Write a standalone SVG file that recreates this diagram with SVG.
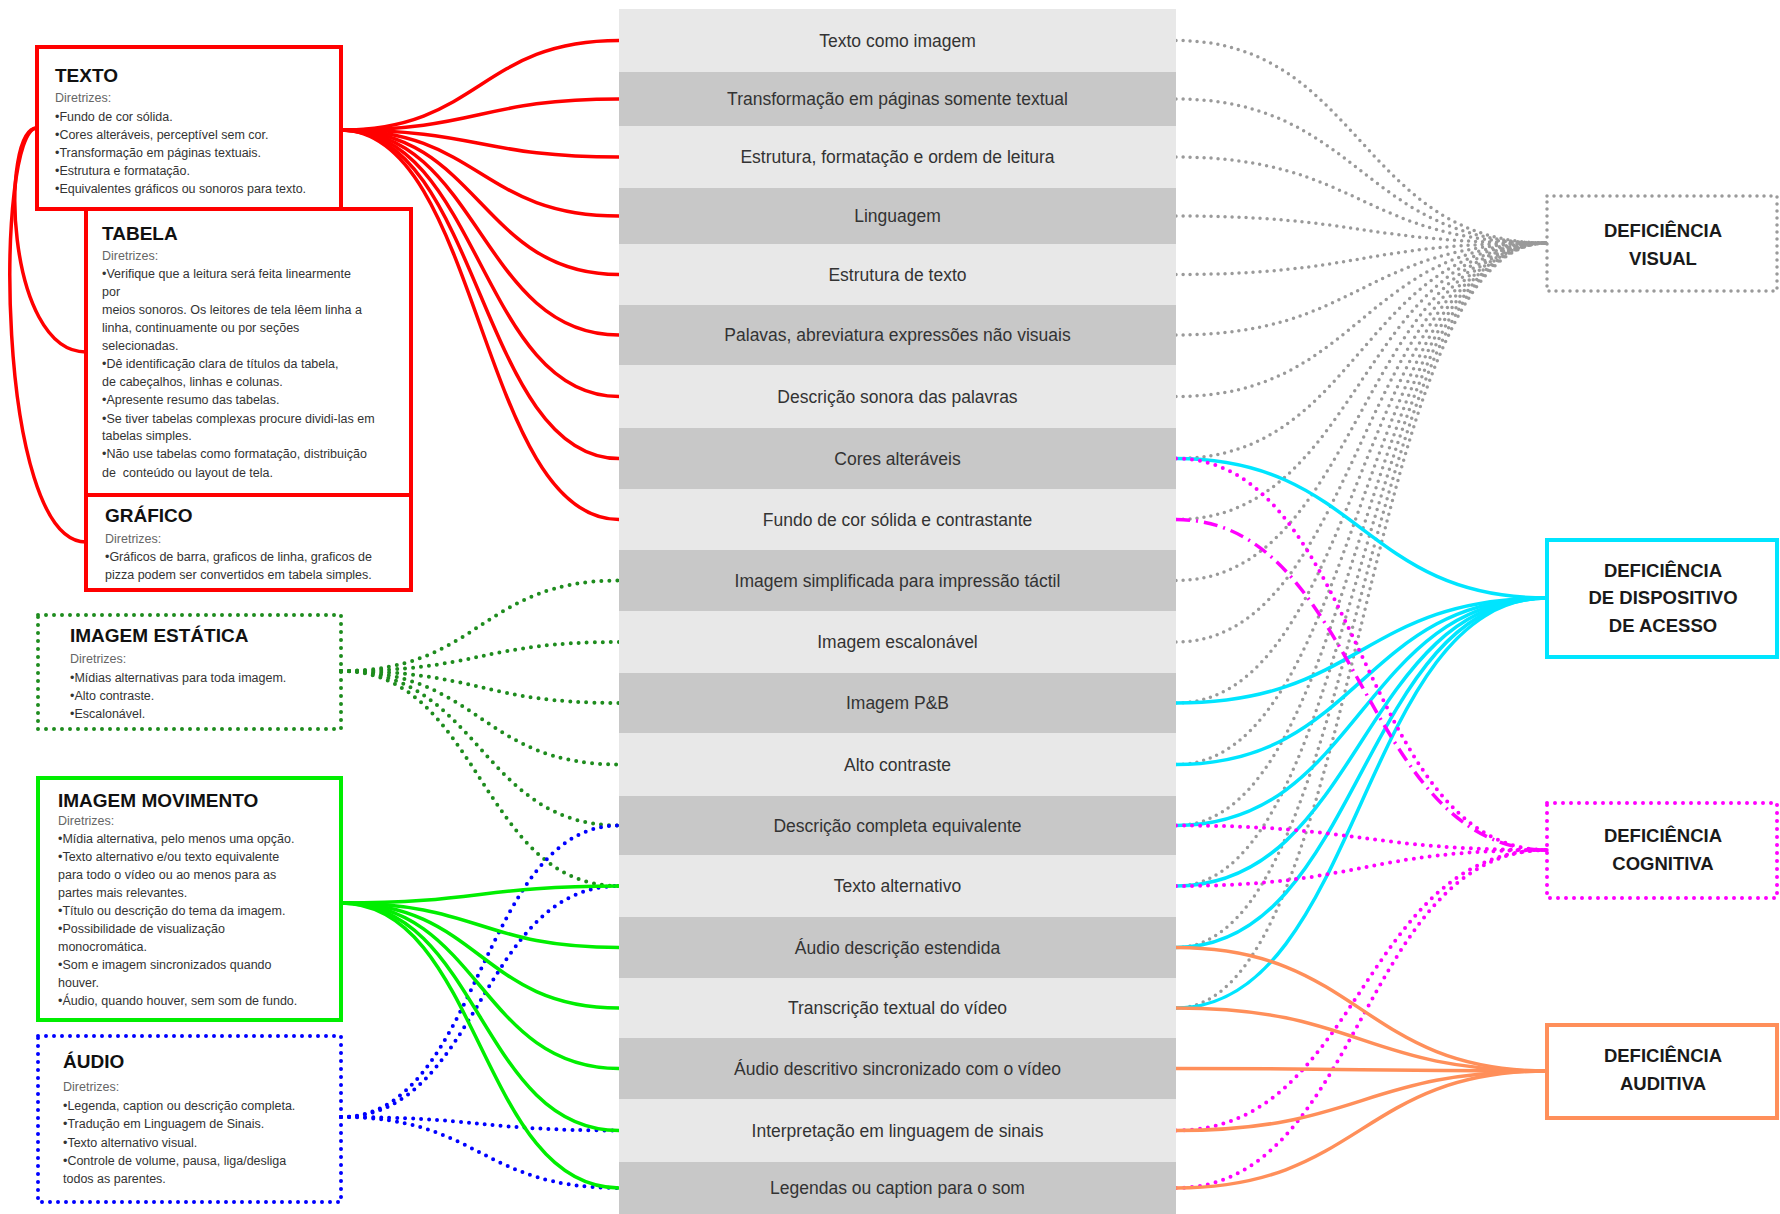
<svg xmlns="http://www.w3.org/2000/svg" width="1780" height="1214" viewBox="0 0 1780 1214">
<style>
text{font-family:"Liberation Sans",Arial,sans-serif}
.row{font-size:17.5px;fill:#333;text-anchor:middle}
.ttl{font-size:19px;font-weight:bold;fill:#111}
.dir{font-size:12.5px;fill:#666}
.bd{font-size:12.5px;fill:#333}
.def{font-size:18.5px;font-weight:bold;fill:#1a1a1a;text-anchor:middle}
.lt{fill:#e8e8e8}
.dk{fill:#c8c8c8}
path,rect.b{fill:none}
.red{stroke:#ff0000;stroke-width:3.5}
.dg{stroke:#1e8c1e;stroke-width:4;stroke-dasharray:0 8;stroke-linecap:round}
.bg{stroke:#00ee00;stroke-width:3.5}
.bl{stroke:#0000ff;stroke-width:4;stroke-dasharray:0 8;stroke-linecap:round}
.gr{stroke:#9a9a9a;stroke-width:3.5;stroke-dasharray:0 7;stroke-linecap:round}
.cy{stroke:#00e5ff;stroke-width:3.5}
.mg{stroke:#ff00ff;stroke-width:4;stroke-dasharray:0 8;stroke-linecap:round}
.mgd{stroke:#ff00ff;stroke-width:3.5;stroke-dasharray:14 6 2 6}
.or{stroke:#ff8f5a;stroke-width:3.5}
</style>
<rect width="1780" height="1214" fill="#ffffff"/>

<g id="connectors">
  <!-- red from TEXTO -->
  <path class="red" d="M341,130 C480,130 480,40.5 619,40.5"/>
  <path class="red" d="M341,130 C480,130 480,99 619,99"/>
  <path class="red" d="M341,130 C480,130 480,157 619,157"/>
  <path class="red" d="M341,130 C480,130 480,216 619,216"/>
  <path class="red" d="M341,130 C480,130 480,274.5 619,274.5"/>
  <path class="red" d="M341,130 C480,130 480,335 619,335"/>
  <path class="red" d="M341,130 C480,130 480,396.5 619,396.5"/>
  <path class="red" d="M341,130 C480,130 480,458.5 619,458.5"/>
  <path class="red" d="M341,130 C480,130 480,519.5 619,519.5"/>
  <path class="red" d="M37,128 C0,128 5,352 86,352"/>
  <path class="red" d="M37,128 C-5,128 -5,542 86,542"/>
  <!-- dark green dotted from IMAGEM ESTATICA -->
  <path class="dg" d="M341,671 C480,671 480,580.5 619,580.5"/>
  <path class="dg" d="M341,671 C480,671 480,642 619,642"/>
  <path class="dg" d="M341,671 C480,671 480,703 619,703"/>
  <path class="dg" d="M341,671 C480,671 480,764.5 619,764.5"/>
  <path class="dg" d="M341,671 C480,671 480,825.5 619,825.5"/>
  <path class="dg" d="M341,671 C480,671 480,886 619,886"/>
  <!-- blue dotted from AUDIO -->
  <path class="bl" d="M341,1117 C480,1117 480,825.5 619,825.5"/>
  <path class="bl" d="M341,1117 C480,1117 480,886 619,886"/>
  <path class="bl" d="M341,1117 C480,1117 480,1130.5 619,1130.5"/>
  <path class="bl" d="M341,1117 C480,1117 480,1188 619,1188"/>
  <!-- bright green from IMAGEM MOVIMENTO -->
  <path class="bg" d="M341,903 C480,903 480,886 619,886"/>
  <path class="bg" d="M341,903 C480,903 480,947.5 619,947.5"/>
  <path class="bg" d="M341,903 C480,903 480,1008 619,1008"/>
  <path class="bg" d="M341,903 C480,903 480,1068.5 619,1068.5"/>
  <path class="bg" d="M341,903 C480,903 480,1130.5 619,1130.5"/>
  <path class="bg" d="M341,903 C480,903 480,1188 619,1188"/>
  <!-- gray dotted to DEFICIENCIA VISUAL -->
  <path class="gr" d="M1176,40.5 C1361,40.5 1361,243 1547,243"/>
  <path class="gr" d="M1176,99 C1361,99 1361,243 1547,243"/>
  <path class="gr" d="M1176,157 C1361,157 1361,243 1547,243"/>
  <path class="gr" d="M1176,216 C1361,216 1361,243 1547,243"/>
  <path class="gr" d="M1176,274.5 C1361,274.5 1361,243 1547,243"/>
  <path class="gr" d="M1176,335 C1361,335 1361,243 1547,243"/>
  <path class="gr" d="M1176,396.5 C1361,396.5 1361,243 1547,243"/>
  <path class="gr" d="M1176,458.5 C1361,458.5 1361,243 1547,243"/>
  <path class="gr" d="M1176,519.5 C1361,519.5 1361,243 1547,243"/>
  <path class="gr" d="M1176,580.5 C1361,580.5 1361,243 1547,243"/>
  <path class="gr" d="M1176,642 C1361,642 1361,243 1547,243"/>
  <path class="gr" d="M1176,703 C1361,703 1361,243 1547,243"/>
  <path class="gr" d="M1176,764.5 C1361,764.5 1361,243 1547,243"/>
  <path class="gr" d="M1176,825.5 C1361,825.5 1361,243 1547,243"/>
  <path class="gr" d="M1176,886 C1361,886 1361,243 1547,243"/>
  <path class="gr" d="M1176,947.5 C1361,947.5 1361,243 1547,243"/>
  <path class="gr" d="M1176,1008 C1361,1008 1361,243 1547,243"/>
  <!-- cyan to DISPOSITIVO -->
  <path class="cy" d="M1176,458.5 C1361,458.5 1361,598 1547,598"/>
  <path class="cy" d="M1176,703 C1361,703 1361,598 1547,598"/>
  <path class="cy" d="M1176,764.5 C1361,764.5 1361,598 1547,598"/>
  <path class="cy" d="M1176,825.5 C1361,825.5 1361,598 1547,598"/>
  <path class="cy" d="M1176,886 C1361,886 1361,598 1547,598"/>
  <path class="cy" d="M1176,947.5 C1361,947.5 1361,598 1547,598"/>
  <path class="cy" d="M1176,1008 C1361,1008 1361,598 1547,598"/>
  <!-- magenta to COGNITIVA -->
  <path class="mg" d="M1176,458.5 C1361,458.5 1361,850 1547,850"/>
  <path class="mgd" d="M1176,519.5 C1361,519.5 1361,850 1547,850"/>
  <path class="mg" d="M1176,825.5 C1361,825.5 1361,850 1547,850"/>
  <path class="mg" d="M1176,886 C1361,886 1361,850 1547,850"/>
  <path class="mg" d="M1176,1130.5 C1361,1130.5 1361,850 1547,850"/>
  <path class="mg" d="M1176,1188 C1361,1188 1361,850 1547,850"/>
  <!-- orange to AUDITIVA -->
  <path class="or" d="M1176,947.5 C1361,947.5 1361,1071 1547,1071"/>
  <path class="or" d="M1176,1008 C1361,1008 1361,1071 1547,1071"/>
  <path class="or" d="M1176,1068.5 C1361,1068.5 1361,1071 1547,1071"/>
  <path class="or" d="M1176,1130.5 C1361,1130.5 1361,1071 1547,1071"/>
  <path class="or" d="M1176,1188 C1361,1188 1361,1071 1547,1071"/>
</g>

<!-- Left boxes -->
<g id="texto">
  <rect class="b" x="37" y="47" width="304" height="162" fill="#fff" stroke="#ff0000" stroke-width="4"/>
  <text class="ttl" x="55" y="82">TEXTO</text>
  <text class="dir" x="55" y="102">Diretrizes:</text>
  <text class="bd" x="55" y="120.5">•Fundo de cor sólida.</text>
  <text class="bd" x="55" y="139">•Cores alteráveis, perceptível sem cor.</text>
  <text class="bd" x="55" y="157">•Transformação em páginas textuais.</text>
  <text class="bd" x="55" y="175">•Estrutura e formatação.</text>
  <text class="bd" x="55" y="193">•Equivalentes gráficos ou sonoros para texto.</text>
</g>
<g id="tabela">
  <rect class="b" x="86" y="209" width="325" height="286" stroke="#ff0000" stroke-width="4"/>
  <text class="ttl" x="102" y="240">TABELA</text>
  <text class="dir" x="102" y="260">Diretrizes:</text>
  <text class="bd" x="102" y="277.5">•Verifique que a leitura será feita linearmente</text>
  <text class="bd" x="102" y="296">por</text>
  <text class="bd" x="102" y="313.5">meios sonoros. Os leitores de tela lêem linha a</text>
  <text class="bd" x="102" y="331.5">linha, continuamente ou por seções</text>
  <text class="bd" x="102" y="350">selecionadas.</text>
  <text class="bd" x="102" y="368">•Dê identificação clara de títulos da tabela,</text>
  <text class="bd" x="102" y="386">de cabeçalhos, linhas e colunas.</text>
  <text class="bd" x="102" y="404">•Apresente resumo das tabelas.</text>
  <text class="bd" x="102" y="422.5">•Se tiver tabelas complexas procure dividi-las em</text>
  <text class="bd" x="102" y="440">tabelas simples.</text>
  <text class="bd" x="102" y="458">•Não use tabelas como formatação, distribuição</text>
  <text class="bd" x="102" y="476.5" xml:space="preserve">de  conteúdo ou layout de tela.</text>
</g>
<g id="grafico">
  <rect class="b" x="86" y="495" width="325" height="95" stroke="#ff0000" stroke-width="4"/>
  <text class="ttl" x="105" y="522">GRÁFICO</text>
  <text class="dir" x="105" y="543">Diretrizes:</text>
  <text class="bd" x="105" y="561">•Gráficos de barra, graficos de linha, graficos de</text>
  <text class="bd" x="105" y="579">pizza podem ser convertidos em tabela simples.</text>
</g>
<g id="imagem-estatica">
  <rect class="b" x="38" y="615" width="303" height="114" stroke="#1e8c1e" stroke-width="4" stroke-dasharray="0 8" stroke-linecap="round"/>
  <text class="ttl" x="70" y="642">IMAGEM ESTÁTICA</text>
  <text class="dir" x="70" y="663">Diretrizes:</text>
  <text class="bd" x="70" y="681.5">•Mídias alternativas para toda imagem.</text>
  <text class="bd" x="70" y="700">•Alto contraste.</text>
  <text class="bd" x="70" y="718">•Escalonável.</text>
</g>
<g id="imagem-movimento">
  <rect class="b" x="38" y="778" width="303" height="242" stroke="#00ee00" stroke-width="4"/>
  <text class="ttl" x="58" y="807">IMAGEM MOVIMENTO</text>
  <text class="dir" x="58" y="825">Diretrizes:</text>
  <text class="bd" x="58" y="843">•Mídia alternativa, pelo menos uma opção.</text>
  <text class="bd" x="58" y="861">•Texto alternativo e/ou texto equivalente</text>
  <text class="bd" x="58" y="879">para todo o vídeo ou ao menos para as</text>
  <text class="bd" x="58" y="896.5">partes mais relevantes.</text>
  <text class="bd" x="58" y="914.5">•Título ou descrição do tema da imagem.</text>
  <text class="bd" x="58" y="932.5">•Possibilidade de visualização</text>
  <text class="bd" x="58" y="950.5">monocromática.</text>
  <text class="bd" x="58" y="968.5">•Som e imagem sincronizados quando</text>
  <text class="bd" x="58" y="986.5">houver.</text>
  <text class="bd" x="58" y="1004.5">•Áudio, quando houver, sem som de fundo.</text>
</g>
<g id="audio">
  <rect class="b" x="38" y="1036" width="303" height="166" stroke="#0000ff" stroke-width="4" stroke-dasharray="0 8" stroke-linecap="round"/>
  <text class="ttl" x="63" y="1068">ÁUDIO</text>
  <text class="dir" x="63" y="1091">Diretrizes:</text>
  <text class="bd" x="63" y="1110">•Legenda, caption ou descrição completa.</text>
  <text class="bd" x="63" y="1128">•Tradução em Linguagem de Sinais.</text>
  <text class="bd" x="63" y="1147">•Texto alternativo visual.</text>
  <text class="bd" x="63" y="1165">•Controle de volume, pausa, liga/desliga</text>
  <text class="bd" x="63" y="1183">todos as parentes.</text>
</g>

<!-- Center column -->
<g id="row01"><rect class="lt" x="619" y="9" width="557" height="63"/><text class="row" x="897.5" y="46.5">Texto como imagem</text></g>
<g id="row02"><rect class="dk" x="619" y="72" width="557" height="54"/><text class="row" x="897.5" y="105">Transformação em páginas somente textual</text></g>
<g id="row03"><rect class="lt" x="619" y="126" width="557" height="62"/><text class="row" x="897.5" y="163">Estrutura, formatação e ordem de leitura</text></g>
<g id="row04"><rect class="dk" x="619" y="188" width="557" height="56"/><text class="row" x="897.5" y="222">Linguagem</text></g>
<g id="row05"><rect class="lt" x="619" y="244" width="557" height="61"/><text class="row" x="897.5" y="280.5">Estrutura de texto</text></g>
<g id="row06"><rect class="dk" x="619" y="305" width="557" height="60"/><text class="row" x="897.5" y="341">Palavas, abreviatura expressões não visuais</text></g>
<g id="row07"><rect class="lt" x="619" y="365" width="557" height="63"/><text class="row" x="897.5" y="402.5">Descrição sonora das palavras</text></g>
<g id="row08"><rect class="dk" x="619" y="428" width="557" height="61"/><text class="row" x="897.5" y="464.5">Cores alteráveis</text></g>
<g id="row09"><rect class="lt" x="619" y="489" width="557" height="61"/><text class="row" x="897.5" y="525.5">Fundo de cor sólida e contrastante</text></g>
<g id="row10"><rect class="dk" x="619" y="550" width="557" height="61"/><text class="row" x="897.5" y="586.5">Imagem simplificada para impressão táctil</text></g>
<g id="row11"><rect class="lt" x="619" y="611" width="557" height="62"/><text class="row" x="897.5" y="648">Imagem escalonável</text></g>
<g id="row12"><rect class="dk" x="619" y="673" width="557" height="60"/><text class="row" x="897.5" y="709">Imagem P&amp;B</text></g>
<g id="row13"><rect class="lt" x="619" y="733" width="557" height="63"/><text class="row" x="897.5" y="770.5">Alto contraste</text></g>
<g id="row14"><rect class="dk" x="619" y="796" width="557" height="59"/><text class="row" x="897.5" y="831.5">Descrição completa equivalente</text></g>
<g id="row15"><rect class="lt" x="619" y="855" width="557" height="62"/><text class="row" x="897.5" y="892">Texto alternativo</text></g>
<g id="row16"><rect class="dk" x="619" y="917" width="557" height="61"/><text class="row" x="897.5" y="953.5">Áudio descrição estendida</text></g>
<g id="row17"><rect class="lt" x="619" y="978" width="557" height="60"/><text class="row" x="897.5" y="1014">Transcrição textual do vídeo</text></g>
<g id="row18"><rect class="dk" x="619" y="1038" width="557" height="61"/><text class="row" x="897.5" y="1074.5">Áudio descritivo sincronizado com o vídeo</text></g>
<g id="row19"><rect class="lt" x="619" y="1099" width="557" height="63"/><text class="row" x="897.5" y="1136.5">Interpretação em linguagem de sinais</text></g>
<g id="row20"><rect class="dk" x="619" y="1162" width="557" height="52"/><text class="row" x="897.5" y="1194">Legendas ou caption para o som</text></g>

<!-- Right boxes -->
<g id="def-visual">
  <rect class="b" x="1547" y="196" width="230" height="95" fill="#fff" stroke="#9a9a9a" stroke-width="3.5" stroke-dasharray="0 7" stroke-linecap="round"/>
  <text class="def" x="1663" y="237">DEFICIÊNCIA</text>
  <text class="def" x="1663" y="265">VISUAL</text>
</g>
<g id="def-dispositivo">
  <rect class="b" x="1547" y="540" width="230" height="117" stroke="#00e5ff" stroke-width="4"/>
  <text class="def" x="1663" y="577">DEFICIÊNCIA</text>
  <text class="def" x="1663" y="604">DE DISPOSITIVO</text>
  <text class="def" x="1663" y="632">DE ACESSO</text>
</g>
<g id="def-cognitiva">
  <rect class="b" x="1547" y="803" width="230" height="95" stroke="#ff00ff" stroke-width="4" stroke-dasharray="0 8" stroke-linecap="round"/>
  <text class="def" x="1663" y="842">DEFICIÊNCIA</text>
  <text class="def" x="1663" y="870">COGNITIVA</text>
</g>
<g id="def-auditiva">
  <rect class="b" x="1547" y="1025" width="230" height="93" stroke="#ff8f5a" stroke-width="4"/>
  <text class="def" x="1663" y="1062">DEFICIÊNCIA</text>
  <text class="def" x="1663" y="1090">AUDITIVA</text>
</g>
</svg>
